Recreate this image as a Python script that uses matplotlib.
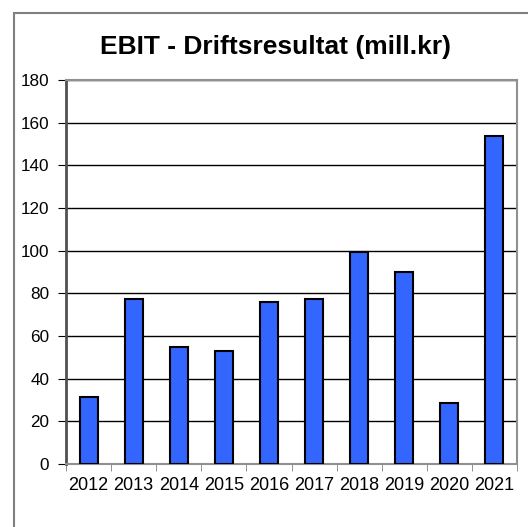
import matplotlib
matplotlib.use("Agg")
import matplotlib.pyplot as plt
from matplotlib.patches import Rectangle

years = ["2012", "2013", "2014", "2015", "2016", "2017", "2018", "2019", "2020", "2021"]
ebit = [31.5, 77.5, 54.7, 52.8, 76, 77.5, 99.6, 89.8, 28.4, 153.8]
yticks = [0, 20, 40, 60, 80, 100, 120, 140, 160, 180]

plt.rcParams['font.family'] = ['Liberation Sans', 'DejaVu Sans']

W, H = 528, 527
fig = plt.figure(figsize=(W / 100, H / 100), dpi=100)
fig.patch.set_facecolor("white")

# outer chart frame
fig.add_artist(Rectangle((14 / W, -0.1), 1.2, 1 - 13 / H + 0.1, transform=fig.transFigure,
                         fill=False, edgecolor="#808080", linewidth=1.5))

ax = fig.add_axes([66 / W, 1 - 464 / H, (517 - 66) / W, (464 - 80) / H])
x = list(range(len(years)))
ax.bar(x, ebit, width=0.4, color="#3366FF", edgecolor="black", linewidth=1.5, zorder=3)

ax.set_xlim(-0.5, len(years) - 0.5)
ax.set_ylim(0, 180)
ax.set_yticks(yticks)
ax.set_yticklabels([str(v) for v in yticks], fontsize=12.3)
ax.set_xticks(x)
ax.set_xticklabels(years, fontsize=13)
ax.tick_params(axis="x", length=0, pad=9)
ax.set_xticks([i - 0.5 for i in range(len(years) + 1)], minor=True)
ax.tick_params(axis="x", which="minor", length=5, color="#808080", direction="out")
ax.tick_params(axis="y", length=6, color="black", direction="out", pad=6)

ax.grid(axis="y", color="black", linewidth=1.0, zorder=0)
for s in ["top", "right", "bottom"]:
    ax.spines[s].set_color("#909090")
    ax.spines[s].set_linewidth(1.5)
ax.spines["left"].set_color("#505050")
ax.spines["left"].set_linewidth(2)

fig.text(275 / W, 1 - 47 / H, "EBIT - Driftsresultat (mill.kr)", ha="center", va="center",
         fontsize=19, fontweight="bold")

fig.savefig("out.png", dpi=100)
